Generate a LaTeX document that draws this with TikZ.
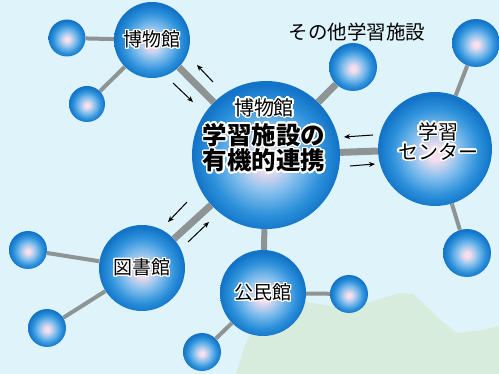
\documentclass[tikz,border=0pt]{standalone}
\usepackage{fontspec}
\setmainfont{Noto Sans CJK JP}
\usepackage{contour}
\contourlength{1.4pt}
\contournumber{24}
\usepackage{tikz}
\usetikzlibrary{arrows.meta}

\definecolor{skybg}{RGB}{222,243,250}
\definecolor{hillgreen}{RGB}{216,236,222}
\definecolor{linkgray}{RGB}{142,148,148}

\pgfdeclareradialshading{sphere}{\pgfpoint{0bp}{-2bp}}{%
  rgb(0bp)=(0.98,0.88,0.92); rgb(3bp)=(0.96,0.87,0.93);
  rgb(11bp)=(0.52,0.75,0.93); rgb(19bp)=(0.18,0.57,0.86);
  rgb(25bp)=(0.07,0.45,0.78); rgb(50bp)=(0.07,0.45,0.78)}

\tikzset{
  ball/.style  = {circle, shading=sphere, inner sep=0pt, align=center,
                  font=\fontsize{19}{20}\selectfont},
  dot/.style   = {ball, minimum size=38},
  sat/.style   = {ball, minimum size=86},
  link/.style  = {draw=linkgray, line width=4pt},
  thick link/.style = {draw=linkgray, line width=7pt},
  flow/.style  = {-{Stealth[length=6pt,width=5pt]}, line width=1pt}
}

\begin{document}
\begin{tikzpicture}[x=1pt,y=-1pt]
\useasboundingbox[fill=skybg] (0,0) rectangle (499,374);
\fill[hillgreen] (236,374) -- (244,348) -- (254,326) -- (280,308) -- (307,302)
  -- (330,306) -- (367,303) -- (400,293) -- (413,294) -- (427,307) -- (440,320)
  -- (457,333) -- (483,330) -- (499,326) -- (499,374) -- cycle;

\node[ball, minimum size=148] (hub) at (266,155) {};
\node[ball, minimum size=76] (haku) at (152,40) {\contour{white}{博物館}};
\node[ball, minimum size=114] (center) at (435,149) {};
\node[sat] (tosho) at (142,268) {\contour{white}{図書館}};
\node[sat] (komin) at (263,293) {\contour{white}{公民館}};

\node[dot, minimum size=37] (h1) at (67,38) {};
\node[dot, minimum size=36] (h2) at (87,104) {};
\node[dot, minimum size=48] (m1) at (353,67) {};
\node[dot, minimum size=48] (c1) at (476,43) {};
\node[dot, minimum size=48] (c2) at (467,253) {};
\node[dot] (t1) at (28,250) {};
\node[dot] (t2) at (47,328) {};
\node[dot] (k1) at (349,294) {};
\node[dot] (k2) at (202,352) {};

% links
\draw[thick link] (hub) -- (haku);
\draw[thick link] (hub) -- (center);
\draw[thick link] (hub) -- (tosho);
\draw[thick link, line width=6pt] (hub) -- (komin);
\draw[thick link] (hub) -- (m1);
\draw[link] (haku) -- (h1);
\draw[link] (haku) -- (h2);
\draw[link] (center) -- (c1);
\draw[link] (center) -- (c2);
\draw[link] (tosho) -- (t1);
\draw[link] (tosho) -- (t2);
\draw[link] (komin) -- (k1);
\draw[link] (komin) -- (k2);

% texts
\node[align=center] (hubtxt) at (264,136)
  {\fontsize{20}{20}\selectfont\contour{white}{博物館}\\[4pt]
   \fontsize{24.5}{27}\selectfont\bfseries\contour{white}{学習施設の}\\
   \fontsize{24.5}{27}\selectfont\bfseries\contour{white}{有機的連携}};
\node[align=center, font=\fontsize{20}{20}\selectfont] (centertxt) at (438,142)
  {\contour{white}{学習}\\\contour{white}{センター}};
\node[font=\fontsize{19.5}{20}\selectfont] (other) at (357,32) {その他学習施設};

% arrows
\coordinate (a1s) at (213,82);  \coordinate (a1e) at (197,65);
\coordinate (a2s) at (173,83);  \coordinate (a2e) at (193,102);
\coordinate (a3s) at (373,135); \coordinate (a3e) at (344,137);
\coordinate (a4s) at (350,166); \coordinate (a4e) at (375,164);
\coordinate (a5s) at (187,202); \coordinate (a5e) at (168,222);
\coordinate (a6s) at (188,242); \coordinate (a6e) at (209,222);
\foreach \s/\e in {a1s/a1e, a2s/a2e, a3s/a3e, a4s/a4e, a5s/a5e, a6s/a6e}
  \draw[flow] (\s) -- (\e);
\end{tikzpicture}
\end{document}
